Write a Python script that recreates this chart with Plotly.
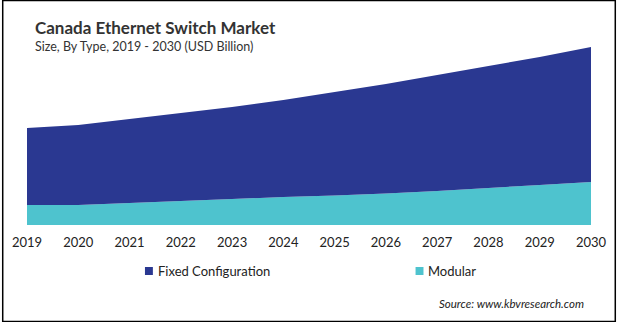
import plotly.graph_objects as go

years = [2019, 2020, 2021, 2022, 2023, 2024, 2025, 2026, 2027, 2028, 2029, 2030]
modular = [0.20, 0.20, 0.22, 0.24, 0.26, 0.28, 0.295, 0.315, 0.34, 0.37, 0.40, 0.43]
fixed_configuration = [0.77, 0.80, 0.84, 0.88, 0.92, 0.97, 1.035, 1.095, 1.16, 1.22, 1.28, 1.35]

colors = {"Fixed Configuration": "#2A3891", "Modular": "#4EC3CE"}

W, H = 619, 322
ML, MR, MT, MB = 25, 25, 40, 97
PW, PH = W - ML - MR, H - MT - MB

def px(x):
    return (x - ML) / PW

def py(y):
    return (H - MB - y) / PH

fig = go.Figure()
fig.add_trace(go.Scatter(x=years, y=modular, name="Modular", mode="none",
                         stackgroup="one", fillcolor=colors["Modular"],
                         showlegend=False))
fig.add_trace(go.Scatter(x=years, y=fixed_configuration, name="Fixed Configuration",
                         mode="none", stackgroup="one",
                         fillcolor=colors["Fixed Configuration"], showlegend=False))

FONT = "Lato"
annotations = [
    dict(text="<b>Canada Ethernet Switch Market</b>", x=px(31), y=py(27),
         xanchor="left", yanchor="middle", font=dict(size=17, color="#333333", family=FONT)),
    dict(text="Size, By Type, 2019 - 2030 (USD Billion)", x=px(31), y=py(47),
         xanchor="left", yanchor="middle", font=dict(size=12.5, color="#333333", family=FONT)),
    dict(text="Fixed Configuration", x=px(155), y=py(271), xanchor="left", yanchor="middle",
         font=dict(size=13, color="#222222", family=FONT)),
    dict(text="Modular", x=px(428), y=py(271), xanchor="left", yanchor="middle",
         font=dict(size=13, color="#222222", family=FONT)),
    dict(text="<i>Source: www.kbvresearch.com</i>", x=px(589), y=py(303), xanchor="right",
         yanchor="middle", font=dict(size=11.5, color="#222222", family=FONT)),
]
for a in annotations:
    a.update(xref="paper", yref="paper", showarrow=False)

shapes = [
    dict(type="rect", xref="paper", yref="paper", x0=px(144), x1=px(152), y0=py(267), y1=py(275),
         fillcolor=colors["Fixed Configuration"], line=dict(width=0)),
    dict(type="rect", xref="paper", yref="paper", x0=px(417), x1=px(425), y0=py(267), y1=py(275),
         fillcolor=colors["Modular"], line=dict(width=0)),
    dict(type="rect", xref="paper", yref="paper", x0=px(0.5), x1=px(618.5), y0=py(0.5), y1=py(321.5),
         line=dict(color="#000000", width=1.5), fillcolor="rgba(0,0,0,0)"),
]

fig.update_layout(
    width=W, height=H,
    margin=dict(l=ML, r=MR, t=MT, b=MB),
    paper_bgcolor="white", plot_bgcolor="white",
    annotations=annotations, shapes=shapes,
    xaxis=dict(range=[2019, 2030], tickvals=years, ticktext=[str(y) for y in years],
               showgrid=False, showline=False, zeroline=False, ticks="",
               ticklabelstandoff=8,
               tickfont=dict(size=13, color="#222222", family=FONT)),
    yaxis=dict(range=[0, PH / 100], showgrid=False, showline=False, zeroline=False,
               showticklabels=False, ticks=""),
)

fig.write_html("out.html")
